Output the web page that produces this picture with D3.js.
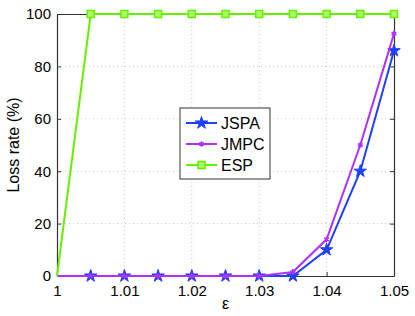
<!DOCTYPE html>
<html>
<head>
<meta charset="utf-8">
<script src="https://cdn.jsdelivr.net/npm/d3@7"></script>
<style>
  body { margin: 0; background: #fff; }
  svg { display: block; font-family: "Liberation Sans", Arial, sans-serif; }
</style>
</head>
<body>
<script>
// chart size and plot box
var W = 415;
var H = 316;
var Left = 57, Right = 394, Top = 14, Bottom = 276;

// data
var epsilon = [1, 1.005, 1.01, 1.015, 1.02, 1.025, 1.03, 1.035, 1.04, 1.045, 1.05];
var jspa = [0, 0, 0, 0, 0, 0, 0, 0, 10, 40, 86];
var jmpc = [0, 0, 0, 0, 0, 0, 0, 1.5, 14, 50, 92.5];
var esp = [0, 100, 100, 100, 100, 100, 100, 100, 100, 100, 100];
var xTicks = [1, 1.01, 1.02, 1.03, 1.04, 1.05];
var yTicks = [0, 20, 40, 60, 80, 100];
var seriesNames = ["JSPA", "JMPC", "ESP"];

var colors = { JSPA: "#2040ff", JMPC: "#b030ff", ESP: "#66f000" };

var svg = d3.select("body").append("svg")
  .attr("width", W)
  .attr("height", H);

var x = d3.scaleLinear().domain([1, 1.05]).range([Left, Right]);
var y = d3.scaleLinear().domain([0, 100]).range([Bottom, Top]);

// dotted grid
svg.append("g").selectAll("line.gx")
  .data(xTicks.slice(1, -1))
  .enter().append("line")
  .attr("x1", function(d) { return x(d); })
  .attr("x2", function(d) { return x(d); })
  .attr("y1", Top).attr("y2", Bottom)
  .attr("stroke", "#c8c8c8")
  .attr("stroke-dasharray", "1,3");
svg.append("g").selectAll("line.gy")
  .data(yTicks.slice(1, -1))
  .enter().append("line")
  .attr("x1", Left).attr("x2", Right)
  .attr("y1", function(d) { return y(d); })
  .attr("y2", function(d) { return y(d); })
  .attr("stroke", "#c8c8c8")
  .attr("stroke-dasharray", "1,3");

// axes (matlab style: ticks inside, box around)
var xAxis = d3.axisBottom(x).tickValues(xTicks).tickSizeInner(-4).tickSizeOuter(0)
  .tickPadding(9).tickFormat(function(d) { return d === 1 ? "1" : d3.format(".2f")(d); });
var yAxis = d3.axisLeft(y).tickValues(yTicks).tickSizeInner(-4).tickSizeOuter(0).tickPadding(6);

var gx = svg.append("g").attr("transform", "translate(0," + Bottom + ")").call(xAxis);
var gy = svg.append("g").attr("transform", "translate(" + Left + ",0)").call(yAxis);
var gyR = svg.append("g").attr("transform", "translate(" + Right + ",0)")
  .call(d3.axisRight(y).tickValues(yTicks).tickSizeInner(-4).tickSizeOuter(0).tickFormat(""));
var gxT = svg.append("g").attr("transform", "translate(0," + Top + ")")
  .call(d3.axisTop(x).tickValues(xTicks).tickSizeInner(-4).tickSizeOuter(0).tickFormat(""));

[gx, gy, gyR, gxT].forEach(function(g) {
  g.select(".domain").attr("stroke", "#333").attr("stroke-width", 1.2);
  g.selectAll(".tick line").attr("stroke", "#333");
  g.selectAll("text").attr("font-size", "15px").attr("fill", "#000")
    .attr("font-family", "Liberation Sans, Arial, sans-serif");
});

// axis labels
svg.append("text")
  .attr("transform", "translate(19," + ((Top + Bottom) / 2) + ") rotate(-90)")
  .attr("text-anchor", "middle")
  .attr("font-size", "16px")
  .text("Loss rate (%)");
svg.append("text")
  .attr("x", (Left + Right) / 2)
  .attr("y", 309)
  .attr("text-anchor", "middle")
  .attr("font-size", "16px")
  .text("ε");

// lines + markers
var allData = { JSPA: jspa, JMPC: jmpc, ESP: esp };
var line = d3.line()
  .x(function(d) { return x(d[0]); })
  .y(function(d) { return y(d[1]); });

function drawMarker(g, name, cx, cy) {
  var c = colors[name];
  if (name == "JSPA") {
    g.append("path")
      .attr("d", d3.symbol().type(d3.symbolStar).size(48)())
      .attr("transform", "translate(" + cx + "," + cy + ")")
      .attr("fill", c).attr("stroke", c).attr("stroke-width", 1);
  } else if (name == "JMPC") {
    g.append("path")
      .attr("d", d3.symbol().type(d3.symbolAsterisk).size(22)())
      .attr("transform", "translate(" + cx + "," + cy + ")")
      .attr("fill", "none").attr("stroke", c).attr("stroke-width", 1.5);
  } else {
    g.append("rect")
      .attr("x", cx - 3.5).attr("y", cy - 3.5)
      .attr("width", 7).attr("height", 7)
      .attr("fill", "#aaff66").attr("stroke", c).attr("stroke-width", 1.5);
  }
}

seriesNames.forEach(function(name) {
  var pts = epsilon.map(function(e, i) { return [e, allData[name][i]]; });
  var g = svg.append("g");
  g.append("path")
    .datum(pts)
    .attr("d", line)
    .attr("fill", "none")
    .attr("stroke", colors[name])
    .attr("stroke-width", 2);
  // first point sits on the axis corner and shows no marker in the original
  pts.slice(1).forEach(function(p) {
    drawMarker(g, name, x(p[0]), y(p[1]));
  });
});

// legend
var lg = svg.append("g");
lg.append("rect")
  .attr("x", 180).attr("y", 108)
  .attr("width", 90).attr("height", 71)
  .attr("fill", "#fff").attr("stroke", "#333").attr("stroke-width", 1);
seriesNames.forEach(function(name, i) {
  var ly = 123 + i * 21;
  lg.append("line")
    .attr("x1", 186).attr("x2", 217)
    .attr("y1", ly).attr("y2", ly)
    .attr("stroke", colors[name]).attr("stroke-width", 2);
  drawMarker(lg, name, 201.5, ly);
  lg.append("text")
    .attr("x", 221).attr("y", ly + 6)
    .attr("font-size", "16px")
    .text(name);
});
</script>
</body>
</html>
